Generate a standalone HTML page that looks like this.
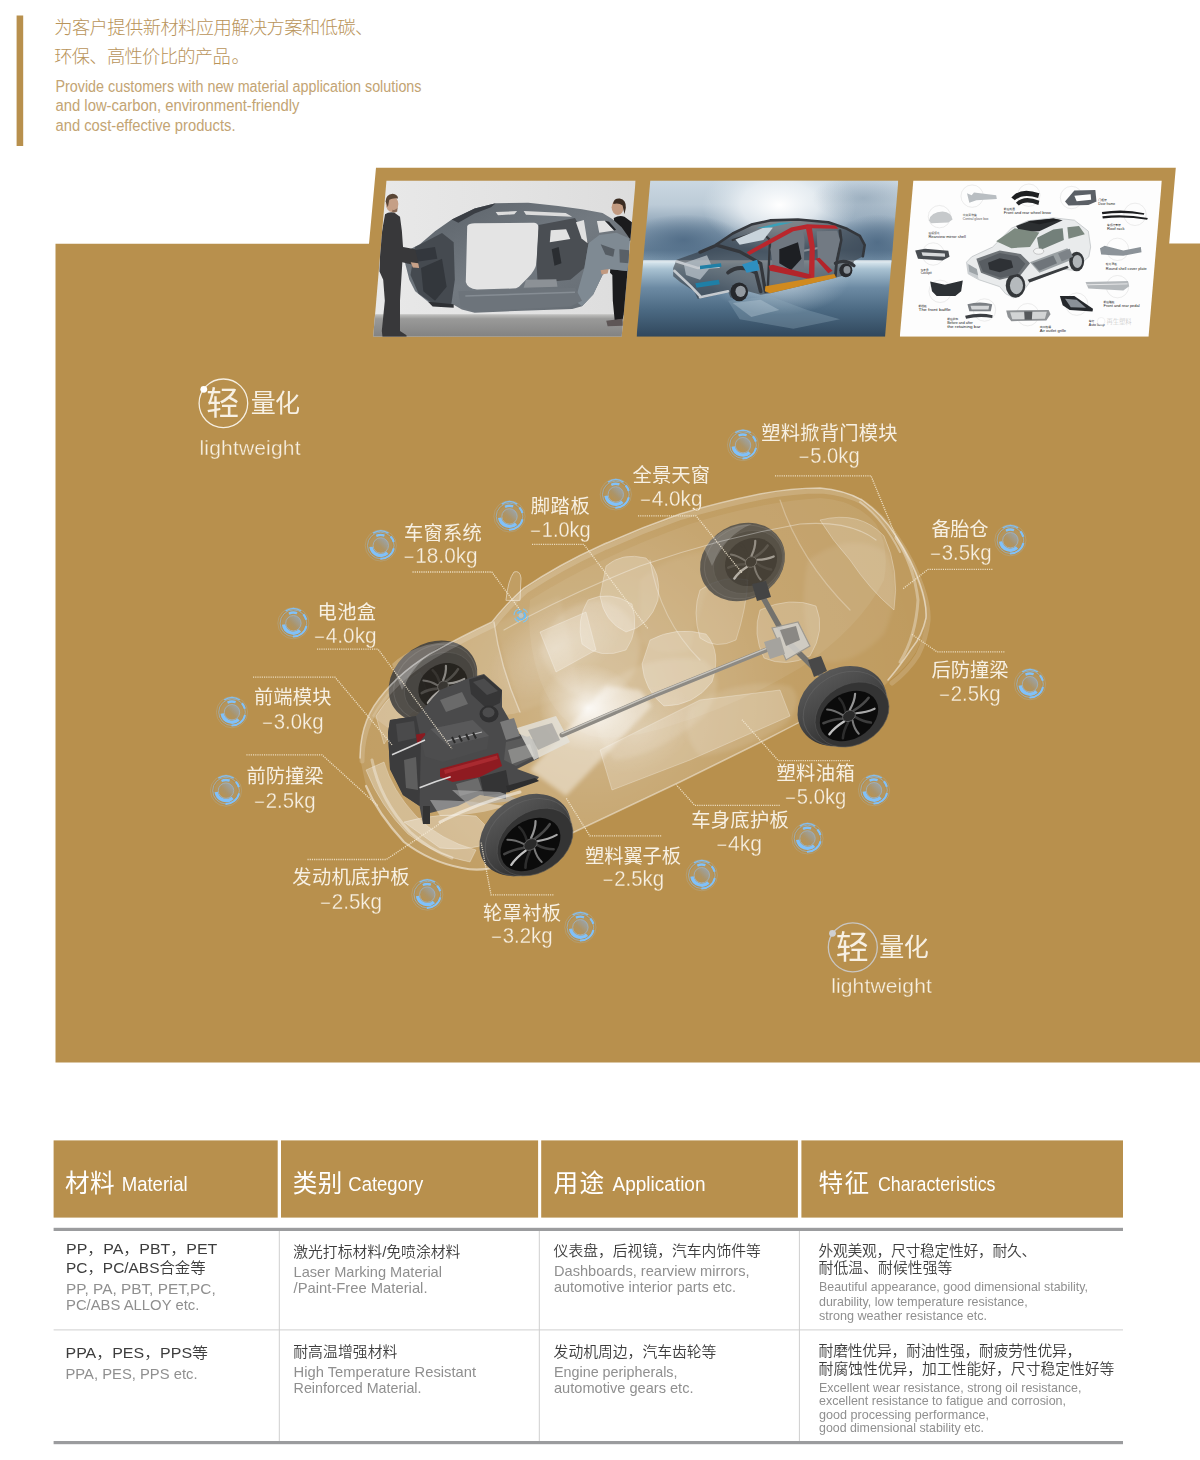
<!DOCTYPE html>
<html lang="zh-CN">
<head>
<meta charset="utf-8">
<title>轻量化 lightweight</title>
<style>
html,body{margin:0;padding:0;background:#fff;}
body{width:1200px;height:1460px;overflow:hidden;position:relative;}
svg{display:block;position:absolute;left:0;top:0;}
text{font-family:"Liberation Sans","Noto Sans CJK SC",sans-serif;}
.cj{font-family:"Liberation Sans","Noto Sans CJK SC",sans-serif;font-weight:300;}
.en{font-family:"Liberation Sans",sans-serif;font-weight:400;}
.lb{fill:#f7f0e3;}
.nm{stroke:#b8904d;stroke-width:.28px;}
.lw{stroke:#b8904d;stroke-width:.3px;}
.lc{font-weight:400;}
.dot{fill:none;stroke:#f5ead4;stroke-width:1.3;stroke-dasharray:1.15 1.05;opacity:.85;}
</style>
</head>
<body>
<svg width="1200" height="1460" viewBox="0 0 1200 1460">
<rect x="0" y="0" width="1200" height="1460" fill="#ffffff"/>
<!-- intro -->
<rect x="16.6" y="15.5" width="6.6" height="130.5" fill="#b8904d"/>
<g fill="#b9945a">
<text class="cj" x="54.2" y="34" font-size="18.3" textLength="319.2" lengthAdjust="spacing">为客户提供新材料应用解决方案和低碳、</text>
<text class="cj" x="54.2" y="63.4" font-size="18.3" textLength="195.6" lengthAdjust="spacing">环保、高性价比的产品<tspan dx="1.5">。</tspan></text>
</g>
<g fill="#c3a473">
<text class="en" x="55.5" y="92" font-size="15.6" textLength="366" lengthAdjust="spacingAndGlyphs">Provide customers with new material application solutions</text>
<text class="en" x="55.5" y="111.2" font-size="15.6" textLength="244" lengthAdjust="spacingAndGlyphs">and low-carbon, environment-friendly</text>
<text class="en" x="55.5" y="130.5" font-size="15.6" textLength="180" lengthAdjust="spacingAndGlyphs">and cost-effective products.</text>
</g>
<!-- gold panel -->
<path d="M55.5 243.8 H369 L376 167.8 H1175.8 L1169.2 243.6 H1200 V1062.5 H55.5 Z" fill="#b8904d"/>
<defs>
<clipPath id="cp1"><path d="M92 45 H1160 L1100 715 H35 Z"/></clipPath>
<clipPath id="cp2"><path d="M87 45 H1150 L1093 715 H28 Z"/></clipPath>
<clipPath id="cp3"><path d="M100 45 H1165 L1108 715 H42 Z"/></clipPath>
<linearGradient id="p1wall" x1="0" y1="0" x2="1" y2="0"><stop offset="0" stop-color="#e9e9e9"/><stop offset=".5" stop-color="#e3e3e3"/><stop offset="1" stop-color="#dcdcdc"/></linearGradient>
<linearGradient id="p1floor" x1="0" y1="0" x2="0" y2="1"><stop offset="0" stop-color="#c3c3c1"/><stop offset=".18" stop-color="#9a9a99"/><stop offset="1" stop-color="#7e7e7e"/></linearGradient>
<linearGradient id="p1frame" x1="0" y1="0" x2="1" y2="1"><stop offset="0" stop-color="#596067"/><stop offset=".5" stop-color="#737a81"/><stop offset="1" stop-color="#626970"/></linearGradient>
<linearGradient id="p2sky" gradientUnits="userSpaceOnUse" x1="0" y1="45" x2="0" y2="392"><stop offset="0" stop-color="#cbd8e2"/><stop offset=".3" stop-color="#bccbd7"/><stop offset=".62" stop-color="#8199ae"/><stop offset=".86" stop-color="#647f97"/><stop offset="1" stop-color="#7c97ad"/></linearGradient>
<radialGradient id="p2glow" gradientUnits="userSpaceOnUse" cx="640" cy="150" r="330" gradientTransform="translate(640 150) scale(1 .62) translate(-640 -150)"><stop offset="0" stop-color="#ffffff" stop-opacity="1"/><stop offset=".5" stop-color="#f1f5f8" stop-opacity=".75"/><stop offset="1" stop-color="#dfe8ee" stop-opacity="0"/></radialGradient>
<radialGradient id="p2dk" gradientUnits="userSpaceOnUse" cx="0" cy="0" r="200"><stop offset="0" stop-color="#4d6984" stop-opacity=".85"/><stop offset="1" stop-color="#4d6984" stop-opacity="0"/></radialGradient>
<linearGradient id="p2floor" gradientUnits="userSpaceOnUse" x1="0" y1="392" x2="0" y2="715"><stop offset="0" stop-color="#dce9f0"/><stop offset=".1" stop-color="#a9c2d2"/><stop offset=".35" stop-color="#6c8aa3"/><stop offset=".65" stop-color="#4b6982"/><stop offset="1" stop-color="#30475c"/></linearGradient>
<radialGradient id="p2fglow" gradientUnits="userSpaceOnUse" cx="640" cy="470" r="300" gradientTransform="translate(640 470) scale(1 .5) translate(-640 -470)"><stop offset="0" stop-color="#cfdde7" stop-opacity=".75"/><stop offset="1" stop-color="#cfdde7" stop-opacity="0"/></radialGradient>
</defs>

<!-- photo 1 -->
<g transform="translate(365 170) scale(.233333)" clip-path="url(#cp1)">
<rect x="0" y="0" width="1200" height="750" fill="url(#p1wall)"/>
<rect x="0" y="618" width="1200" height="110" fill="url(#p1floor)"/>
<!-- right man (behind frame) -->
<path d="M1066 206 Q1090 192 1112 200 L1144 224 L1146 300 L1132 304 L1126 440 L1122 520 L1116 600 L1104 640 L1070 644 L1062 560 L1060 450 L1050 440 L1060 300 L1072 250 Z" fill="#1b1b1d"/>
<ellipse cx="1083" cy="160" rx="26" ry="33" fill="#c29a80"/>
<path d="M1064 140 Q1068 120 1092 122 Q1120 128 1118 162 L1112 190 L1104 152 Q1088 140 1064 146 Z" fill="#3b2c22"/>
<path d="M1034 646 L1102 638 L1106 668 L1040 670 Z" fill="#5e5656"/>
<!-- car frame -->
<path d="M168 352 L235 318 L300 262 L372 212 L470 165 L560 142 L700 140 L828 154 L930 168 L1018 184 L1060 210 L1100 245 L1134 294 L1130 434 L1044 424 L1018 450 L978 534 L930 584 L888 596 L600 606 L470 612 L415 598 L380 578 L300 582 L270 565 L215 520 L190 470 L172 400 Z" fill="url(#p1frame)"/>
<path d="M215 330 L330 270 L380 310 L385 470 L370 575 L300 580 L230 530 L195 450 Z" fill="#454a50"/>
<path d="M240 420 L330 380 L350 500 L300 560 L250 520 Z" fill="#33373c"/>
<path d="M438 240 Q445 228 470 228 L725 226 Q748 228 744 260 L735 400 Q730 430 700 460 L660 500 Q650 508 630 508 L480 512 Q440 510 432 480 Z" fill="#e4e4e4"/>
<path d="M560 180 L652 176 L640 190 L570 194 Z M680 176 L860 184 L888 200 L690 192 Z" fill="#dcdcdc"/>
<path d="M744 236 L900 206 L958 314 L940 420 L880 470 L740 484 L735 400 Z" fill="#4a4e53"/>
<path d="M796 258 L862 254 L880 296 L792 310 Z" fill="#e2e2e2"/>
<path d="M904 224 L938 214 L954 314 L928 294 Z" fill="#e0e0e0"/>
<path d="M994 219 L1028 217 L1068 259 L1004 269 Z" fill="#e1e1e1"/>
<path d="M1028 217 L1046 222 L1076 256 L1068 259 Z" fill="#222428"/>
<path d="M958 314 L1004 279 L1078 269 L1134 294 L1130 434 L1044 424 L1018 450 L978 534 L930 584 L900 560 L940 420 Z" fill="#7f8a93"/>
<path d="M1010 318 L1070 340 L1064 372 L1030 362 Z" fill="#565d64"/>
<path d="M1090 340 L1132 344 L1130 400 L1092 396 Z" fill="#596067"/>
<path d="M690 470 L820 468 L825 500 L680 505 Z" fill="#8c9196"/>
<path d="M800 340 L830 330 L842 400 L812 410 Z" fill="#2a2d31"/>
<path d="M400 520 L900 505 L930 560 L880 585 L470 605 L410 585 Z" fill="#6d747b"/>
<path d="M430 540 L900 524" stroke="#868d94" stroke-width="6"/>
<path d="M270 565 L380 575 L380 590 L290 585 Z" fill="#2e3034"/>
<path d="M168 350 L300 330 L310 380 L180 400 Z" fill="#33373d"/>
<path d="M372 212 L470 165 L560 142 L540 160 L470 186 L400 226 Z" fill="#3a3e44"/>
<!-- left man -->
<path d="M86 190 Q100 178 125 182 L150 200 L158 260 L163 330 L215 340 L230 400 L200 405 L160 395 L158 430 L150 560 L150 690 L178 708 L178 716 L75 716 L72 690 L85 560 L78 470 L62 435 L66 300 Z" fill="#38383a"/>
<ellipse cx="116" cy="146" rx="27" ry="34" fill="#c59f86"/>
<path d="M88 135 Q90 104 118 102 Q140 104 142 122 Q120 118 104 128 L98 160 Z" fill="#5a4636"/>
<path d="M118 170 Q132 176 140 160 L138 178 Q126 186 116 180 Z" fill="#8a6a55"/>
<path d="M196 395 L228 400 L232 420 L205 418 Z" fill="#c7a188"/>
<path d="M1010 430 L1044 424 L1040 444 L1014 448 Z" fill="#c29a80"/>
</g>

<!-- photo 2 -->
<g transform="translate(630 170) scale(.233333)" clip-path="url(#cp2)">
<rect x="0" y="0" width="1200" height="395" fill="url(#p2sky)"/>
<rect x="0" y="0" width="1200" height="395" fill="url(#p2glow)"/>
<circle cx="0" cy="0" r="200" fill="url(#p2dk)" transform="translate(230 300) scale(1.25 .55)"/>
<circle cx="0" cy="0" r="200" fill="url(#p2dk)" transform="translate(1060 310) scale(.9 .6)"/>
<circle cx="0" cy="0" r="200" fill="url(#p2dk)" transform="translate(1000 120) scale(1.1 .5)" opacity=".35"/>
<rect x="0" y="392" width="1200" height="340" fill="url(#p2floor)"/>
<rect x="0" y="392" width="1200" height="340" fill="url(#p2fglow)"/>
<rect x="0" y="386" width="1200" height="9" fill="#eef4f7" opacity=".7"/>
<path d="M420 560 L600 540 L760 600 L900 640 L700 680 L470 640 Z" fill="#8ea8bb" opacity=".35"/>
<path d="M440 570 L560 556 L640 600 L520 630 Z" fill="#b9cad6" opacity=".4"/>
<!-- frame silhouette -->
<path d="M185 420 L200 385 L290 352 L370 318 L440 270 L520 232 L600 214 L720 210 L850 222 L930 250 L985 280 L1008 320 L1000 370 L960 390 L945 440 L905 455 L880 462 L600 528 L560 535 L505 520 L470 560 L430 545 L420 520 L330 545 L290 552 L275 520 L215 480 L185 455 Z" fill="#2e3136" opacity=".55"/>
<g fill="none" stroke="#34373c" stroke-linejoin="round" stroke-linecap="round">
<path d="M370 320 L440 272 L520 234 L600 216 L720 212 L850 224 L930 252 L985 282 L1006 322 L998 370" stroke-width="11"/>
<path d="M440 300 L560 262 L600 300 L590 520" stroke-width="10"/>
<path d="M300 352 L370 322 L470 350 L560 400 L580 520" stroke-width="14"/>
<path d="M900 260 L905 300 L885 400 L880 455" stroke-width="12"/>
<path d="M420 440 Q470 400 540 440 L560 520" stroke-width="16"/>
<path d="M880 400 Q925 380 960 410" stroke-width="14"/>
<path d="M620 330 L740 300 M620 370 L880 320" stroke-width="9" stroke="#8a9098"/>
</g>
<path d="M452 298 L585 242 L612 248 L572 300 L470 320 Z" fill="#c9d4dc"/>
<path d="M610 300 L740 252 L748 300 L745 420 L700 440 L615 430 L602 340 Z" fill="#6f7780"/>
<path d="M800 262 L888 260 L900 300 L880 390 L830 420 L805 380 Z" fill="#727a83"/>
<path d="M640 340 L720 310 L735 380 L690 430 L640 400 Z" fill="#1d1f23"/>
<path d="M230 400 L330 365 L350 410 L300 470 L240 450 Z" fill="#b8c1c9" opacity=".75"/>
<g fill="none" stroke="#c5cacf" stroke-width="11" stroke-linecap="round">
<path d="M190 432 L262 500 L300 540"/>
<path d="M200 392 L290 420 L380 415"/>
<path d="M300 545 L420 520"/>
</g>
<path d="M280 485 L380 470 L385 490 L285 505 Z M300 410 L390 400 L392 415 L300 425 Z" fill="#1f7fa6"/>
<path d="M480 405 L545 385 L555 430 L500 440 Z" fill="#2e8fc0"/>
<path d="M540 250 L640 226 L700 224 L600 246 Z" fill="#3aa0b8"/>
<!-- red pillars -->
<path d="M500 352 L690 246 L760 232 L880 238 L893 252 L770 250 L700 262 L512 364 Z" fill="#b9262c"/>
<path d="M752 240 L778 238 L792 330 L790 465 L766 470 L770 330 Z" fill="#bb282e"/>
<path d="M594 410 L612 406 L775 448 L772 468 L600 432 Z" fill="#b3242a"/>
<path d="M795 380 L812 376 L868 432 L850 442 Z" fill="#b3242a"/>
<path d="M580 498 L876 446 L884 462 L600 528 L578 520 Z" fill="#d08a1f"/>
<!-- hubs -->
<ellipse cx="468" cy="522" rx="38" ry="40" fill="#26282c"/>
<ellipse cx="474" cy="520" rx="22" ry="24" fill="#9299a0"/>
<ellipse cx="925" cy="430" rx="28" ry="30" fill="#292b2f"/>
<ellipse cx="930" cy="428" rx="15" ry="17" fill="#8a9198"/>
</g>

<!-- photo 3 -->
<g transform="translate(890 170) scale(.233333)" clip-path="url(#cp3)">
<rect x="0" y="0" width="1200" height="750" fill="#fdfdfd"/>
<g fill="none" stroke="#d9d9d9" stroke-width="2">
<circle cx="352" cy="112" r="48"/><circle cx="595" cy="108" r="48"/><circle cx="778" cy="118" r="48"/><circle cx="1050" cy="190" r="48"/>
<circle cx="212" cy="200" r="48"/><circle cx="975" cy="340" r="48"/><circle cx="185" cy="360" r="48"/><circle cx="975" cy="500" r="48"/>
<circle cx="215" cy="520" r="48"/><circle cx="800" cy="575" r="48"/><circle cx="405" cy="600" r="48"/><circle cx="590" cy="620" r="48"/>
</g>
<!-- SUV -->
<path d="M328 395 L350 372 L440 330 L520 250 L590 218 L700 205 L790 215 L850 262 L860 330 L852 372 L820 400 L790 430 L740 425 L600 480 L570 520 L530 548 L495 530 L470 500 L380 470 L335 445 Z" fill="#e9ebec" stroke="#b9bdc0" stroke-width="3"/>
<path d="M540 240 L600 218 L700 208 L740 215 L640 262 L560 268 Z" fill="#2c2f31"/>
<path d="M455 305 L535 250 L640 268 L600 330 L520 335 Z" fill="#7d8a80"/>
<path d="M630 290 L700 255 L740 250 L745 300 L640 345 Z" fill="#73807a"/>
<path d="M760 245 L810 240 L835 275 L765 295 Z" fill="#7a867e"/>
<path d="M370 380 L470 345 L560 360 L600 400 L560 450 L470 470 L390 440 Z" fill="#6f7478"/>
<path d="M400 395 L470 370 L530 380 L540 420 L470 445 L410 430 Z" fill="#3d4146"/>
<path d="M600 395 L760 335 L790 380 L640 440 Z" fill="#9aa0a3"/>
<path d="M330 400 L370 425 L380 468 L336 445 Z" fill="#c9cdd0"/>
<ellipse cx="538" cy="495" rx="42" ry="52" fill="#34373a"/>
<ellipse cx="542" cy="495" rx="28" ry="37" fill="#b5babd"/>
<ellipse cx="800" cy="392" rx="32" ry="42" fill="#34373a"/>
<ellipse cx="803" cy="392" rx="20" ry="28" fill="#b0b5b8"/>
<ellipse cx="637" cy="348" rx="22" ry="13" fill="#f3f4f4" stroke="#999" stroke-width="2"/>
<path d="M380 392 L470 356 L548 370 L580 402 L548 446 L474 462 L398 436 Z" fill="#585d62"/>
<path d="M420 398 L470 378 L520 388 L528 418 L470 438 L426 426 Z" fill="#2e3135"/>
<path d="M610 400 L700 366 L716 400 L640 432 Z" fill="#6f757a"/>
<path d="M720 358 L770 338 L784 372 L736 392 Z" fill="#7d8388"/>
<path d="M590 222 L700 208 L730 214 L640 232 Z" fill="#1e2022"/>
<path d="M336 404 L372 424 L378 452 L340 436 Z" fill="#9ea4a8"/>
<path d="M590 470 L760 410 L766 420 L598 482 Z" fill="#3a3d40"/>
<!-- parts -->
<path d="M330 100 L350 108 L360 96 L455 108 L458 124 L370 130 L340 140 Z" fill="#b9bec2"/>
<path d="M520 118 Q560 70 640 100 L635 120 Q570 98 535 130 Z" fill="#1d1f21"/>
<path d="M540 140 Q575 105 640 132 L636 150 Q580 128 552 152 Z" fill="#232527"/>
<path d="M750 135 L790 88 L880 86 L885 135 L850 150 L765 152 Z" fill="#5b6066"/>
<path d="M790 110 L860 104 L862 128 L800 134 Z" fill="#fdfdfd"/>
<path d="M908 180 Q1000 165 1090 185 L1088 192 Q1000 178 910 190 Z M910 198 Q1005 186 1105 206 L1102 213 Q1005 198 912 208 Z" fill="#1c1d1f"/>
<path d="M168 215 Q175 180 225 178 Q265 182 268 212 L250 225 L175 228 Z" fill="#c6c9cb"/>
<path d="M900 335 L920 325 L1000 345 L1075 330 L1078 352 L1000 368 Q940 365 905 362 Z" fill="#8c9399"/>
<path d="M108 345 L150 338 L250 346 L255 372 L225 388 L120 380 Z" fill="#494d52"/>
<path d="M135 352 L235 358 L236 372 L140 368 Z" fill="#d7d9db"/>
<path d="M172 478 L235 492 L312 474 L305 520 L280 540 L200 540 L180 520 Z" fill="#2e3236"/>
<path d="M838 480 L1020 476 L1025 498 L1000 516 L850 508 Z" fill="#b4b8bb"/>
<path d="M842 492 L1018 488" stroke="#e9eaeb" stroke-width="4"/>
<path d="M728 540 L790 540 L870 595 L868 606 L770 600 L740 580 Z" fill="#25282c"/>
<path d="M750 552 L800 556 L840 590 L775 588 Z" fill="#8a9097"/>
<path d="M332 575 Q385 560 438 575 L432 605 L340 605 Z" fill="#7c8085"/>
<path d="M345 582 L425 582 L422 598 L350 598 Z" fill="#d4d6d8"/>
<path d="M322 625 Q380 608 440 622 L438 634 Q380 624 326 638 Z" fill="#3c3f43"/>
<path d="M498 602 L680 600 L688 618 L670 645 L520 648 L505 630 Z" fill="#8f9295"/>
<path d="M515 610 L672 608 L664 638 L524 640 Z" fill="#d2d4d5"/>
<path d="M575 606 L610 606 L608 642 L577 642 Z" fill="#55585b"/>
<!-- captions -->
<g font-family="'Liberation Sans','Noto Sans CJK SC',sans-serif" fill="#222" font-size="17">
<text x="312" y="214" fill="#555" textLength="110" lengthAdjust="spacingAndGlyphs">Central glove box</text><text x="312" y="197" font-size="12" fill="#555">中央置物盒</text>
<text x="488" y="188" textLength="202" lengthAdjust="spacingAndGlyphs">Front and rear wheel brow</text><text x="488" y="170" font-size="12">前后轮眉</text>
<text x="893" y="151" textLength="72" lengthAdjust="spacingAndGlyphs">Door frame</text><text x="893" y="134" font-size="12">门框架</text>
<text x="930" y="259" textLength="75" lengthAdjust="spacingAndGlyphs">Roof rack</text><text x="930" y="242" font-size="12">车顶行李架</text>
<text x="165" y="291" textLength="160" lengthAdjust="spacingAndGlyphs">Rearview mirror shell</text><text x="165" y="273" font-size="12">后视镜壳</text>
<text x="925" y="427" textLength="175" lengthAdjust="spacingAndGlyphs">Round shell cover plate</text><text x="925" y="409" font-size="12">轮壳罩板</text>
<text x="132" y="446" font-size="13" textLength="46" lengthAdjust="spacingAndGlyphs">Cockpit</text><text x="132" y="432" font-size="11">仪表盘</text>
<text x="915" y="587" textLength="155" lengthAdjust="spacingAndGlyphs">Front and rear pedal</text><text x="915" y="569" font-size="12">前后踏板</text>
<text x="122" y="605" font-size="18" textLength="138" lengthAdjust="spacingAndGlyphs">The front baffle</text><text x="122" y="586" font-size="12">前挡板</text>
<text x="245" y="659" textLength="110" lengthAdjust="spacingAndGlyphs">Before and after</text><text x="245" y="678" font-size="18" textLength="143" lengthAdjust="spacingAndGlyphs">the retaining bar</text><text x="245" y="642" font-size="12">前后护杠</text>
<text x="642" y="696" textLength="113" lengthAdjust="spacingAndGlyphs">Air outlet grille</text><text x="642" y="678" font-size="12">出口格栅</text>
<text x="852" y="667" textLength="68" lengthAdjust="spacingAndGlyphs">Auto lamp</text><text x="852" y="650" font-size="12">车灯</text>
<text x="928" y="659" font-size="27" fill="#c4c4c4" class="cj">再生塑料</text>
</g>
<circle cx="905" cy="648" r="16" fill="#ffffff" opacity=".8" stroke="#ddd" stroke-width="2"/>
</g>
<defs>
<radialGradient id="cglow" cx=".5" cy=".5" r=".5"><stop offset="0" stop-color="#fff" stop-opacity=".95"/><stop offset=".4" stop-color="#fff" stop-opacity=".5"/><stop offset="1" stop-color="#fff" stop-opacity="0"/></radialGradient>
<radialGradient id="cbody" gradientUnits="userSpaceOnUse" cx="590" cy="700" r="340"><stop offset="0" stop-color="#fff" stop-opacity=".36"/><stop offset=".3" stop-color="#fff" stop-opacity=".24"/><stop offset=".6" stop-color="#fff" stop-opacity=".14"/><stop offset="1" stop-color="#fff" stop-opacity=".10"/></radialGradient>
<linearGradient id="tire" x1="0" y1="0" x2="0" y2="1"><stop offset="0" stop-color="#585858"/><stop offset=".5" stop-color="#444"/><stop offset="1" stop-color="#2c2c2c"/></linearGradient>
<filter id="b2" x="-20%" y="-20%" width="140%" height="140%"><feGaussianBlur stdDeviation="2"/></filter>
<filter id="b5" x="-30%" y="-30%" width="160%" height="160%"><feGaussianBlur stdDeviation="5"/></filter>
<filter id="b1" x="-10%" y="-10%" width="120%" height="120%"><feGaussianBlur stdDeviation=".7"/></filter>
<g id="spokes" fill="none" stroke-linecap="round">
<path d="M0 0 L3 -23 M0 0 L21 -9 M0 0 L18 14 M0 0 L-3 23 M0 0 L-21 9 M0 0 L-18 -14" stroke="#8e8e8e" stroke-width="2.6"/>
<path d="M0 0 L13 -19 M0 0 L23 3 M0 0 L8 21 M0 0 L-13 19 M0 0 L-23 -3 M0 0 L-8 -21" stroke="#4c4c4c" stroke-width="2"/>
<circle r="4.2" fill="#666" stroke="#999" stroke-width="1"/>
</g>
</defs>
<g id="car">
<!-- translucent body -->
<path id="bodyp" d="M360 758 Q360 728 374 706 Q394 676 430 654 Q462 636 492 622 Q506 604 524 588 Q560 564 600 546 Q640 528 680 514 Q720 502 760 494 Q792 488 820 488 Q844 490 862 500 Q882 514 896 536 Q912 560 920 584 Q927 604 926 618 Q924 636 916 652 Q906 668 890 680 L870 700 L800 722 L765 740 L680 782 L570 834 L540 850 L500 866 Q480 872 462 868 Q430 862 404 842 Q378 814 366 786 Z" fill="url(#cbody)"/>
<!-- roof panel -->
<path d="M530 600 Q600 556 690 524 Q760 502 820 498 Q856 500 876 524 Q890 548 884 580 Q860 628 800 668 Q740 704 670 726 Q620 742 590 736 Q556 722 540 680 Q526 640 530 600 Z" fill="#fff" opacity=".07"/>
<!-- hood -->
<path d="M372 716 Q392 680 432 654 Q462 636 494 622 Q500 666 520 712 Q500 720 470 704 Q420 706 388 728 Z" fill="#fff" opacity=".14"/>
<!-- interior blobs -->
<g fill="#fff" filter="url(#b2)">
<path d="M540 650 Q552 606 596 600 Q632 604 640 644 Q640 684 604 700 Q556 700 540 650 Z" opacity="0.12"/>
<path d="M596 690 Q650 650 704 660 Q730 680 704 716 Q654 758 614 760 Q586 726 596 690 Z" opacity="0.12"/>
<path d="M690 706 Q740 676 790 686 Q806 700 786 724 Q744 752 700 756 Q680 736 690 706 Z" opacity="0.11"/>
<path d="M808 560 Q850 530 886 552 Q904 590 884 634 Q850 670 816 660 Q796 620 808 560 Z" opacity="0.08"/>
<path d="M640 580 Q680 546 724 552 Q700 600 690 650 Q660 660 640 640 Z" opacity="0.06"/>
<path d="M494 624 L560 596 L580 690 L520 712 Z" opacity="0.07"/>
</g>
<!-- seats & panels -->
<g fill="#fff" stroke="#fff" stroke-width=".8" stroke-opacity=".35" filter="url(#b1)">
<path d="M606 566 Q622 552 646 558 Q662 572 658 600 Q650 626 626 632 Q604 622 600 596 Z" fill-opacity="0.24"/>
<path d="M588 600 Q610 590 632 604 Q640 630 626 650 Q600 660 582 644 Q576 620 588 600 Z" fill-opacity="0.21"/>
<path d="M650 640 Q676 626 706 634 Q722 652 712 682 Q694 706 664 706 Q644 690 642 664 Z" fill-opacity="0.27"/>
<path d="M700 590 Q724 574 748 580 Q746 610 736 640 Q716 650 700 638 Q692 612 700 590 Z" fill-opacity="0.15"/>
<path d="M760 610 Q790 596 816 606 Q826 630 810 656 Q786 668 764 658 Q752 634 760 610 Z" fill-opacity="0.18"/>
<path d="M540 632 L586 612 L596 650 L556 672 Z" fill-opacity="0.24"/>
<path d="M600 750 L700 700 L780 690 L790 716 L690 760 L612 790 Z" fill-opacity="0.21"/>
<path d="M820 520 Q860 510 884 536 Q900 570 894 610 Q870 590 850 560 Q832 540 820 520 Z" fill-opacity="0.18"/>
<path d="M376 716 Q392 690 420 672 L430 700 Q400 716 384 744 Z" fill-opacity="0.21"/>
<path d="M366 770 Q380 806 408 834 Q436 856 470 862 L476 850 Q440 840 416 816 Q392 790 384 762 Z" fill-opacity="0.30"/>
<path d="M404 822 Q440 812 476 816 L500 840 Q470 852 440 848 Z" fill-opacity="0.30"/>
</g>
<ellipse cx="0" cy="0" rx="78" ry="42" transform="translate(556 648) rotate(-32)" fill="url(#cglow)" opacity=".30"/>
<ellipse cx="0" cy="0" rx="60" ry="40" transform="translate(640 730) rotate(-25)" fill="url(#cglow)" opacity=".22"/>
<!-- bright console -->
<path d="M530 770 L606 686 L640 690 L652 706 L566 796 Z" fill="#fff" opacity=".42" filter="url(#b2)"/>
<ellipse cx="588" cy="708" rx="50" ry="44" fill="url(#cglow)" opacity=".9"/>
<!-- rear-left wheel -->
<g opacity="0.82">
<ellipse transform="translate(742.5 562) rotate(-30)" rx="44" ry="37.5" fill="#4a4a49"/>
<ellipse transform="translate(744.3 562.0) rotate(-30)" rx="41.3" ry="35.0" fill="none" stroke="#6a6a6a" stroke-width="1" opacity=".5"/>
<ellipse transform="translate(748 562) rotate(-30)" rx="36" ry="30" fill="#3f3f3e"/>
<ellipse transform="translate(748 562) rotate(-30)" rx="36" ry="30" fill="none" stroke="#555" stroke-width=".8" opacity=".7"/>
<g transform="translate(751 562) rotate(-30)"><ellipse rx="27" ry="23" fill="#2a2a2a"/><path d="M6.6 1.2 Q14.7 5.7 22.5 6.5" fill="none" stroke="#a8a8a8" stroke-width="2.2" stroke-linecap="round" opacity="0.9"/><path d="M4.5 4.3 Q8.0 12.0 13.7 16.6" fill="none" stroke="#3c3c3c" stroke-width="2.6" stroke-linecap="round" opacity="0.9"/><path d="M0.7 5.7 Q-1.9 13.7 -0.4 20.2" fill="none" stroke="#7a7a7a" stroke-width="2.0" stroke-linecap="round" opacity="0.9"/><path d="M-3.4 5.0 Q-11.0 10.2 -14.3 16.2" fill="none" stroke="#2e2e2e" stroke-width="2.6" stroke-linecap="round" opacity="0.9"/><path d="M-6.2 2.3 Q-15.9 2.7 -22.7 6.0" fill="none" stroke="#c0c0c0" stroke-width="2.4" stroke-linecap="round" opacity="0.9"/><path d="M-6.6 -1.2 Q-14.7 -5.7 -22.5 -6.5" fill="none" stroke="#444" stroke-width="2.6" stroke-linecap="round" opacity="0.9"/><path d="M-4.5 -4.3 Q-8.0 -12.0 -13.7 -16.6" fill="none" stroke="#6e6e6e" stroke-width="2.0" stroke-linecap="round" opacity="0.9"/><path d="M-0.7 -5.7 Q1.9 -13.7 0.4 -20.2" fill="none" stroke="#2a2a2a" stroke-width="2.6" stroke-linecap="round" opacity="0.9"/><path d="M3.4 -5.0 Q11.0 -10.2 14.3 -16.2" fill="none" stroke="#959595" stroke-width="2.2" stroke-linecap="round" opacity="0.9"/><path d="M6.2 -2.3 Q15.9 -2.7 22.7 -6.0" fill="none" stroke="#4a4a4a" stroke-width="2.6" stroke-linecap="round" opacity="0.9"/><ellipse rx="5.9" ry="5.1" fill="#2a2a2a" stroke="#6a6a6a" stroke-width=".8"/></g>
</g>
<path d="M704 548 Q722 524 752 524 Q726 534 712 566 Z" fill="#fff" opacity=".18"/>
<!-- front-left wheel (inside body) -->
<g opacity="0.9">
<ellipse transform="translate(433 681.5) rotate(-34)" rx="47" ry="38" fill="#444342"/>
<ellipse transform="translate(435.0 682.3) rotate(-34)" rx="43.7" ry="35.0" fill="none" stroke="#6a6a6a" stroke-width="1" opacity=".5"/>
<ellipse transform="translate(439 684) rotate(-34)" rx="37" ry="29" fill="#393939"/>
<ellipse transform="translate(439 684) rotate(-34)" rx="37" ry="29" fill="none" stroke="#555" stroke-width=".8" opacity=".7"/>
<g transform="translate(443 686) rotate(-34)"><ellipse rx="26" ry="21.5" fill="#141414"/><path d="M6.4 1.1 Q14.2 5.4 21.6 6.1" fill="none" stroke="#a8a8a8" stroke-width="2.2" stroke-linecap="round" opacity="0.85"/><path d="M4.3 4.0 Q7.7 11.2 13.2 15.5" fill="none" stroke="#3c3c3c" stroke-width="2.6" stroke-linecap="round" opacity="0.85"/><path d="M0.7 5.3 Q-1.8 12.8 -0.3 18.9" fill="none" stroke="#7a7a7a" stroke-width="2.0" stroke-linecap="round" opacity="0.85"/><path d="M-3.2 4.7 Q-10.6 9.5 -13.7 15.1" fill="none" stroke="#2e2e2e" stroke-width="2.6" stroke-linecap="round" opacity="0.85"/><path d="M-5.9 2.2 Q-15.3 2.5 -21.9 5.6" fill="none" stroke="#c0c0c0" stroke-width="2.4" stroke-linecap="round" opacity="0.85"/><path d="M-6.4 -1.1 Q-14.2 -5.4 -21.6 -6.1" fill="none" stroke="#444" stroke-width="2.6" stroke-linecap="round" opacity="0.85"/><path d="M-4.3 -4.0 Q-7.7 -11.2 -13.2 -15.5" fill="none" stroke="#6e6e6e" stroke-width="2.0" stroke-linecap="round" opacity="0.85"/><path d="M-0.7 -5.3 Q1.8 -12.8 0.3 -18.9" fill="none" stroke="#2a2a2a" stroke-width="2.6" stroke-linecap="round" opacity="0.85"/><path d="M3.3 -4.7 Q10.6 -9.5 13.7 -15.1" fill="none" stroke="#959595" stroke-width="2.2" stroke-linecap="round" opacity="0.85"/><path d="M5.9 -2.2 Q15.3 -2.5 21.9 -5.6" fill="none" stroke="#4a4a4a" stroke-width="2.6" stroke-linecap="round" opacity="0.85"/><ellipse rx="5.7" ry="4.7" fill="#2a2a2a" stroke="#6a6a6a" stroke-width=".8"/></g>
</g>
<path d="M392 664 Q416 642 452 642 Q420 652 402 690 Z" fill="#fff" opacity=".22"/>
<!-- engine -->
<g>
<path d="M388 733 L390 720 L416 716 L425 707 L440 690 L469 678 L484 674 L502 690 L502 707 L517 733 L535 740 L539 758 L517 769 L539 777 L535 782 L506 786 L506 799 L480 795 L458 806 L430 813 L430 824 L423 824 L419.5 806 L403 795 L390 769 Z" fill="#4a4a4b"/>
<path d="M388 733 L390 720 L416 716 L421 740 L419.5 806 L403 795 L390 769 Z" fill="#3c3c3d"/>
<path d="M396 724 L414 721 L416 738 L398 742 Z" fill="#4a4a4b"/>
<path d="M469 679.5 L484 675 L502 690.5 L500 703 L487 709 L471 694 Z" fill="#363637"/>
<path d="M473 682 L484 678.5 L498 691 L487 695 Z" fill="#4b4b4c"/>
<path d="M440 769 L498 753 L502 766 L480 777 L452.5 782 L440 777 Z" fill="#8f1b21"/>
<path d="M444 770 L497 755.5 L498 759 L445 774 Z" fill="#a92a30"/>
<path d="M416 734.5 L425 733 L426 741 L417 743 Z" fill="#8a1a20"/>
<path d="M421 740 L430.5 729 L472.7 720 L489 736 L487 749 L443 762 L425 756.5 Z" fill="#4d4d4e"/>
<path d="M430.5 729 L472.7 720 L489 736 L448 746 Z" fill="#59595a"/>
<path d="M447 741 L482 732" stroke="#cfcfcf" stroke-width="1.2" opacity=".8"/>
<path d="M452 737 L455 743 M459 735.5 L462 741.5 M466 734 L469 740 M473 732.5 L476 738.5" stroke="#2a2a2a" stroke-width="2"/>
<ellipse cx="489" cy="714" rx="9.5" ry="8.5" fill="#303031"/>
<ellipse cx="488.5" cy="712.5" rx="6" ry="5" fill="#4c4c4d"/>
<path d="M506 742 L530 736 L536 756 L516 766 L504 760 Z" fill="#5a5a5a"/>
<path d="M480 777 L506 770 L510 792 L484 796 Z" fill="#343435"/>
<path d="M506 786 L535 778 L539 781 L508 792 Z" fill="#2e2e2f"/>
<path d="M423 806 L430 806 L430 824 L423 824 Z" fill="#333"/>
<path d="M440 700 L462 692 L468 704 L446 712 Z" fill="#6a6a6a"/>
<path d="M500 722 L514 718 L520 736 L506 740 Z" fill="#7a7a7a"/>
<path d="M404 760 L416 757 L418 790 L406 788 Z" fill="#5e5e5e"/>
<path d="M456 784 L478 778 L482 790 L460 796 Z" fill="#6c6c6c"/>
<path d="M508 750 L530 744 L534 756 L512 764 Z" fill="#8a8a88"/>
<path d="M392 754.7 Q410 747 425 740" stroke="#e8e8e8" stroke-width="1.5" fill="none" opacity=".9"/>
<path d="M419.5 787.7 Q436 781 450.7 776.7" stroke="#e8e8e8" stroke-width="1.5" fill="none" opacity=".9"/>
<path d="M430 800 Q470 800 505 806 Q480 815 440 816 Z" fill="#fff" opacity=".35" filter="url(#b1)"/>
<path d="M452 790 L500 792 L520 800 L470 806 Z" fill="#b9b9b9" opacity=".55"/>
</g>
<!-- drivetrain -->
<g stroke-linecap="round" fill="none">
<path d="M517 728 L556 716 L570 742 L534 760 Z" fill="#e4e2dc" stroke="none" opacity=".8"/>
<path d="M528 730 L552 723 L560 740 L538 750 Z" fill="#a9a8a4" stroke="none" opacity=".8"/>
<path d="M562 735 L650 697 L766 650" stroke="#8d8a84" stroke-width="5"/>
<path d="M562 733.6 L650 695.6 L766 648.6" stroke="#c9c6bf" stroke-width="1.4"/>
<path d="M760 592 L788 642 L820 674" stroke="#74726d" stroke-width="5.5"/>
<path d="M772 628 L798 622 L810 646 L786 660 Z" fill="#cfcdc8" stroke="#9a9892" stroke-width="1.2" opacity=".92"/>
<path d="M764 642 L780 637 L785 654 L770 659 Z" fill="#a5a39e" stroke="none"/>
<path d="M780 630 L796 626 L800 640 L786 646 Z" fill="#8a8884" stroke="none"/>
<path d="M752 584 L766 581 L771 597 L757 601 Z" fill="#444" stroke="none"/>
<path d="M808 660 L821 656 L827 671 L814 677 Z" fill="#484848" stroke="none"/>
</g>
<!-- body edge highlights -->
<g fill="none" stroke="#fff" stroke-linecap="round" filter="url(#b1)">
<path d="M360 758 Q360 728 374 706 Q394 676 430 654 Q462 636 492 622 Q506 604 524 588 Q560 564 600 546 Q640 528 680 514 Q720 502 760 494 Q792 488 820 488 Q844 490 862 500 Q882 514 896 536 Q912 560 920 584 Q927 604 926 618 Q924 636 916 652 Q906 668 890 680" stroke-width="5" opacity=".16" transform="translate(2 3)"/>
<path d="M506 600 Q508 580 514 572 Q520 570 521 578 L520 600 Z" fill="#fff" fill-opacity=".25" stroke-width="1" opacity=".5"/>
<path d="M360 758 Q360 728 374 706 Q394 676 430 654 Q462 636 492 622 Q506 604 524 588 Q560 564 600 546 Q640 528 680 514 Q720 502 760 494 Q792 488 820 488 Q844 490 862 500 Q882 514 896 536 Q912 560 920 584 Q927 604 926 618 Q922 636 912 648 Q900 666 888 680" stroke-width="1.5" opacity=".5"/>
<path d="M366 786 Q378 814 404 842 Q430 862 462 868 Q480 872 500 866" stroke-width="2.2" opacity=".5"/>
<path d="M372 760 Q380 800 410 832 Q430 850 452 858" stroke-width="3" opacity=".35"/>
<path d="M570 834 L680 782 L765 740 L800 722" stroke-width="1.4" opacity=".45"/>
<path d="M494 622 Q500 666 520 712" stroke-width="1.4" opacity=".4"/>
<path d="M504 630 Q560 598 640 566 Q720 538 800 524 Q850 520 876 540" stroke-width="1.2" opacity=".35"/>
<path d="M896 538 Q914 566 918 600 Q916 636 900 662" stroke-width="3" opacity=".32"/>
<path d="M860 502 Q884 520 900 552" stroke-width="2" opacity=".35"/>
<path d="M440 822 Q480 802 520 792" stroke-width="3" opacity=".5"/>
<path d="M650 560 Q660 620 700 660" stroke-width="1.2" opacity=".3"/>
<path d="M780 500 Q800 560 850 610" stroke-width="1.2" opacity=".28"/>
</g>
<!-- front wheels (in front of body) -->
<g>
<ellipse transform="translate(525 835) rotate(-34)" rx="49" ry="37" fill="url(#tire)"/>
<ellipse transform="translate(528.3 837.3) rotate(-34)" rx="46.3" ry="34.7" fill="none" stroke="#6a6a6a" stroke-width="1" opacity=".5"/>
<ellipse transform="translate(535 842) rotate(-34)" rx="41" ry="30" fill="#343434"/>
<ellipse transform="translate(535 842) rotate(-34)" rx="41" ry="30" fill="none" stroke="#555" stroke-width=".8" opacity=".7"/>
<g transform="translate(530.5 844.5) rotate(-34)"><ellipse rx="32.5" ry="23.5" fill="#0b0b0b"/><path d="M7.9 1.2 Q17.7 5.9 27.1 6.7" fill="none" stroke="#a8a8a8" stroke-width="2.2" stroke-linecap="round" opacity="1.0"/><path d="M5.4 4.4 Q9.6 12.3 16.5 16.9" fill="none" stroke="#3c3c3c" stroke-width="2.6" stroke-linecap="round" opacity="1.0"/><path d="M0.8 5.8 Q-2.2 14.0 -0.4 20.7" fill="none" stroke="#7a7a7a" stroke-width="2.0" stroke-linecap="round" opacity="1.0"/><path d="M-4.1 5.1 Q-13.2 10.4 -17.2 16.5" fill="none" stroke="#2e2e2e" stroke-width="2.6" stroke-linecap="round" opacity="1.0"/><path d="M-7.4 2.4 Q-19.1 2.8 -27.3 6.1" fill="none" stroke="#c0c0c0" stroke-width="2.4" stroke-linecap="round" opacity="1.0"/><path d="M-7.9 -1.2 Q-17.7 -5.9 -27.1 -6.7" fill="none" stroke="#444" stroke-width="2.6" stroke-linecap="round" opacity="1.0"/><path d="M-5.4 -4.4 Q-9.6 -12.3 -16.5 -16.9" fill="none" stroke="#6e6e6e" stroke-width="2.0" stroke-linecap="round" opacity="1.0"/><path d="M-0.8 -5.8 Q2.2 -14.0 0.4 -20.7" fill="none" stroke="#2a2a2a" stroke-width="2.6" stroke-linecap="round" opacity="1.0"/><path d="M4.1 -5.1 Q13.2 -10.4 17.2 -16.5" fill="none" stroke="#959595" stroke-width="2.2" stroke-linecap="round" opacity="1.0"/><path d="M7.4 -2.4 Q19.1 -2.8 27.3 -6.1" fill="none" stroke="#4a4a4a" stroke-width="2.6" stroke-linecap="round" opacity="1.0"/><ellipse rx="7.2" ry="5.2" fill="#2a2a2a" stroke="#6a6a6a" stroke-width=".8"/></g>
</g>
<g>
<ellipse transform="translate(842 706) rotate(-30)" rx="46.6" ry="37.6" fill="url(#tire)"/>
<ellipse transform="translate(845.3 708.8) rotate(-30)" rx="44.1" ry="35.1" fill="none" stroke="#6a6a6a" stroke-width="1" opacity=".5"/>
<ellipse transform="translate(852 714.5) rotate(-30)" rx="39" ry="30" fill="#343434"/>
<ellipse transform="translate(852 714.5) rotate(-30)" rx="39" ry="30" fill="none" stroke="#555" stroke-width=".8" opacity=".7"/>
<g transform="translate(849 716) rotate(-30)"><ellipse rx="31" ry="23" fill="#0b0b0b"/><path d="M7.6 1.2 Q16.9 5.7 25.8 6.5" fill="none" stroke="#a8a8a8" stroke-width="2.2" stroke-linecap="round" opacity="1.0"/><path d="M5.2 4.3 Q9.1 12.0 15.7 16.6" fill="none" stroke="#3c3c3c" stroke-width="2.6" stroke-linecap="round" opacity="1.0"/><path d="M0.8 5.7 Q-2.1 13.7 -0.4 20.2" fill="none" stroke="#7a7a7a" stroke-width="2.0" stroke-linecap="round" opacity="1.0"/><path d="M-3.9 5.0 Q-12.6 10.2 -16.4 16.2" fill="none" stroke="#2e2e2e" stroke-width="2.6" stroke-linecap="round" opacity="1.0"/><path d="M-7.1 2.3 Q-18.2 2.7 -26.1 6.0" fill="none" stroke="#c0c0c0" stroke-width="2.4" stroke-linecap="round" opacity="1.0"/><path d="M-7.6 -1.2 Q-16.9 -5.7 -25.8 -6.5" fill="none" stroke="#444" stroke-width="2.6" stroke-linecap="round" opacity="1.0"/><path d="M-5.2 -4.3 Q-9.1 -12.0 -15.7 -16.6" fill="none" stroke="#6e6e6e" stroke-width="2.0" stroke-linecap="round" opacity="1.0"/><path d="M-0.8 -5.7 Q2.1 -13.7 0.4 -20.2" fill="none" stroke="#2a2a2a" stroke-width="2.6" stroke-linecap="round" opacity="1.0"/><path d="M3.9 -5.0 Q12.6 -10.2 16.4 -16.2" fill="none" stroke="#959595" stroke-width="2.2" stroke-linecap="round" opacity="1.0"/><path d="M7.1 -2.3 Q18.2 -2.7 26.1 -6.0" fill="none" stroke="#4a4a4a" stroke-width="2.6" stroke-linecap="round" opacity="1.0"/><ellipse rx="6.8" ry="5.1" fill="#2a2a2a" stroke="#6a6a6a" stroke-width=".8"/></g>
</g>
</g>
<defs>
<linearGradient id="icg" x1=".15" y1=".85" x2=".85" y2=".15"><stop offset="0" stop-color="#b9924f"/><stop offset=".45" stop-color="#ac9468"/><stop offset="1" stop-color="#9ba3a6"/></linearGradient>
<g id="ic">
<circle r="15.6" fill="none" stroke="#a9c6dc" stroke-width=".7" opacity=".35"/>
<circle r="13.3" fill="none" stroke="#93b6d2" stroke-width="1" opacity=".75"/>
<circle r="11.6" fill="#8fc6f3" opacity=".10"/>
<path d="M-7.74 -12.38 A14.6 14.6 0 0 1 7.74 -12.38" fill="none" stroke="#80c1fa" stroke-width="1.5" opacity=".95"/>
<path d="M13.01 2.77 A13.3 13.3 0 0 1 -0.46 13.29" fill="none" stroke="#80c1fa" stroke-width="2"/>
<path d="M9.88 -8.90 A13.3 13.3 0 0 1 12.85 -3.44" fill="none" stroke="#80c1fa" stroke-width="2.2"/>
<path d="M-4.48 -9.61 A10.6 10.6 0 0 1 3.63 -9.96" fill="none" stroke="#80c1fa" stroke-width="2.4"/>
<path d="M6.62 7.36 A9.9 9.9 0 0 1 -9.80 1.38" fill="none" stroke="#80c1fa" stroke-width="3.4"/>
<circle r="7.7" fill="url(#icg)" stroke="#9db0bd" stroke-width=".9"/>
</g>
<g id="ics">
<circle r="7" fill="none" stroke="#7cc4f5" stroke-width="1.2" stroke-dasharray="9 4 6 3" opacity=".9"/>
<circle r="4" fill="none" stroke="#6bbcf4" stroke-width="2" stroke-dasharray="7 3 5 2" transform="rotate(60)"/>
<circle r="2.4" fill="#b9c4c6"/>
</g>
</defs>
<g id="labels">
<path class="dot" d="M775 475.8 L871 475.8 L896 536.8"/>
<use href="#ic" x="743" y="445.1"/>
<text class="cj lb lc" x="761.3" y="439.6" font-size="19.3" textLength="136.2" lengthAdjust="spacing">塑料掀背门模块</text>
<text class="en lb nm" x="797.8" y="463.3" font-size="22"><tspan textLength="12.5" lengthAdjust="spacingAndGlyphs">-</tspan><tspan textLength="49.3" lengthAdjust="spacingAndGlyphs">5.0kg</tspan></text>
<path class="dot" d="M638 515.8 L696 515.8 L742 572.8"/>
<use href="#ic" x="615.8" y="494.4"/>
<text class="cj lb lc" x="632.5" y="482.4" font-size="19.3" textLength="77.5" lengthAdjust="spacing">全景天窗</text>
<text class="en lb nm" x="639.3" y="505.8" font-size="22"><tspan textLength="12.5" lengthAdjust="spacingAndGlyphs">-</tspan><tspan textLength="50.6" lengthAdjust="spacingAndGlyphs">4.0kg</tspan></text>
<path class="dot" d="M532 544.3 L583.8 544.3 L648 628.8"/>
<use href="#ic" x="509.5" y="516.4"/>
<text class="cj lb lc" x="530.7" y="513.2" font-size="19.3" textLength="59.0" lengthAdjust="spacing">脚踏板</text>
<text class="en lb nm" x="529.3" y="537" font-size="22"><tspan textLength="12.5" lengthAdjust="spacingAndGlyphs">-</tspan><tspan textLength="48.8" lengthAdjust="spacingAndGlyphs">1.0kg</tspan></text>
<path class="dot" d="M412.5 572 L491.8 572 L520 610"/>
<use href="#ic" x="380.8" y="545.5"/>
<text class="cj lb lc" x="404" y="539.9" font-size="19.3" textLength="77.7" lengthAdjust="spacing">车窗系统</text>
<text class="en lb nm" x="402.8" y="562.5" font-size="22"><tspan textLength="12.5" lengthAdjust="spacingAndGlyphs">-</tspan><tspan textLength="62.3" lengthAdjust="spacingAndGlyphs">18.0kg</tspan></text>
<path class="dot" d="M317 649.2 L378 649.2 L452 748.8"/>
<use href="#ic" x="293.4" y="623.2"/>
<text class="cj lb lc" x="317.5" y="619.2" font-size="19.3" textLength="58.6" lengthAdjust="spacing">电池盒</text>
<text class="en lb nm" x="313.3" y="643.2" font-size="22"><tspan textLength="12.5" lengthAdjust="spacingAndGlyphs">-</tspan><tspan textLength="50.8" lengthAdjust="spacingAndGlyphs">4.0kg</tspan></text>
<path class="dot" d="M253 677.2 L335 677.2 L392 744.8"/>
<use href="#ic" x="232" y="712.2"/>
<text class="cj lb lc" x="253.9" y="704.2" font-size="19.3" textLength="77.6" lengthAdjust="spacing">前端模块</text>
<text class="en lb nm" x="261.3" y="728.8" font-size="22"><tspan textLength="12.5" lengthAdjust="spacingAndGlyphs">-</tspan><tspan textLength="49.8" lengthAdjust="spacingAndGlyphs">3.0kg</tspan></text>
<path class="dot" d="M246.4 754.8 L322 754.8 L378 805.8"/>
<use href="#ic" x="226" y="790.6"/>
<text class="cj lb lc" x="246.5" y="783.2" font-size="19.3" textLength="77.0" lengthAdjust="spacing">前防撞梁</text>
<text class="en lb nm" x="253.3" y="807.8" font-size="22"><tspan textLength="12.5" lengthAdjust="spacingAndGlyphs">-</tspan><tspan textLength="49.8" lengthAdjust="spacingAndGlyphs">2.5kg</tspan></text>
<path class="dot" d="M307.5 859.5 L386.3 859.5 L444.4 820.6"/>
<use href="#ic" x="427.3" y="894.6"/>
<text class="cj lb lc" x="292.3" y="884.4" font-size="19.3" textLength="117.2" lengthAdjust="spacing">发动机底护板</text>
<text class="en lb nm" x="319.3" y="909" font-size="22"><tspan textLength="12.5" lengthAdjust="spacingAndGlyphs">-</tspan><tspan textLength="50.2" lengthAdjust="spacingAndGlyphs">2.5kg</tspan></text>
<path class="dot" d="M553.4 894.8 L491 894.8 L481 841.8"/>
<use href="#ic" x="580.4" y="927.3"/>
<text class="cj lb lc" x="483" y="919.8" font-size="19.3" textLength="78.0" lengthAdjust="spacing">轮罩衬板</text>
<text class="en lb nm" x="490.3" y="943.3" font-size="22"><tspan textLength="12.5" lengthAdjust="spacingAndGlyphs">-</tspan><tspan textLength="49.8" lengthAdjust="spacingAndGlyphs">3.2kg</tspan></text>
<path class="dot" d="M661.2 835.8 L589.8 835.8 L566 797.8"/>
<use href="#ic" x="701.8" y="875.2"/>
<text class="cj lb lc" x="585.1" y="862.7" font-size="19.3" textLength="95.9" lengthAdjust="spacing">塑料翼子板</text>
<text class="en lb nm" x="601.7" y="885.8" font-size="22"><tspan textLength="12.5" lengthAdjust="spacingAndGlyphs">-</tspan><tspan textLength="49.9" lengthAdjust="spacingAndGlyphs">2.5kg</tspan></text>
<path class="dot" d="M779.7 805.4 L694.7 805.4 L676.3 784.8"/>
<use href="#ic" x="807.5" y="838.4"/>
<text class="cj lb lc" x="691.3" y="827.2" font-size="19.3" textLength="97.4" lengthAdjust="spacing">车身底护板</text>
<text class="en lb nm" x="715.6" y="851.3" font-size="22"><tspan textLength="12.5" lengthAdjust="spacingAndGlyphs">-</tspan><tspan textLength="33.8" lengthAdjust="spacingAndGlyphs">4kg</tspan></text>
<path class="dot" d="M850 760.6 L778.3 760.6 L742 719.8"/>
<use href="#ic" x="874" y="790.2"/>
<text class="cj lb lc" x="776.4" y="780.4" font-size="19.3" textLength="78.3" lengthAdjust="spacing">塑料油箱</text>
<text class="en lb nm" x="784.3" y="803.8" font-size="22"><tspan textLength="12.5" lengthAdjust="spacingAndGlyphs">-</tspan><tspan textLength="49.5" lengthAdjust="spacingAndGlyphs">5.0kg</tspan></text>
<path class="dot" d="M1004.4 651.8 L937 651.8 L911 633.8"/>
<use href="#ic" x="1030" y="684.2"/>
<text class="cj lb lc" x="931.5" y="676.7" font-size="19.3" textLength="77.0" lengthAdjust="spacing">后防撞梁</text>
<text class="en lb nm" x="938.3" y="700.8" font-size="22"><tspan textLength="12.5" lengthAdjust="spacingAndGlyphs">-</tspan><tspan textLength="49.8" lengthAdjust="spacingAndGlyphs">2.5kg</tspan></text>
<path class="dot" d="M992.4 569.4 L928 569.4 L903 588.8"/>
<use href="#ic" x="1010.4" y="540.2"/>
<text class="cj lb lc" x="931.5" y="536.2" font-size="19.3" textLength="57.0" lengthAdjust="spacing">备胎仓</text>
<text class="en lb nm" x="929.3" y="559.8" font-size="22"><tspan textLength="12.5" lengthAdjust="spacingAndGlyphs">-</tspan><tspan textLength="49.8" lengthAdjust="spacingAndGlyphs">3.5kg</tspan></text>
<use href="#ics" x="521" y="615.5"/>
<circle cx="223.4" cy="403.3" r="24.3" fill="none" stroke="#f6efe2" stroke-width="1.3"/>
<circle cx="203.8" cy="389.3" r="3.4" fill="#ffffff"/>
<text class="cj lb" x="222.8" y="414.7" font-size="33" text-anchor="middle" fill="#fff" style="font-weight:400">轻</text>
<text class="cj lb" x="250.7" y="411.90000000000003" font-size="25" textLength="49.4" lengthAdjust="spacing" style="font-weight:400">量化</text>
<text class="en lb lw" x="199.5" y="455" font-size="21" textLength="101.0" lengthAdjust="spacing" style="font-weight:400">lightweight</text>
<circle cx="852.8" cy="947.3" r="24.5" fill="none" stroke="#c9c6c2" stroke-width="1.3"/>
<circle cx="832.5" cy="933.3" r="3.4" fill="#cfd0d2"/>
<text class="cj lb" x="852.1999999999999" y="958.6999999999999" font-size="33" text-anchor="middle" fill="#fff" style="font-weight:400">轻</text>
<text class="cj lb" x="879.3000000000001" y="955.9" font-size="25" textLength="49.4" lengthAdjust="spacing" style="font-weight:400">量化</text>
<text class="en lb lw" x="831.2" y="993.4" font-size="21" textLength="100.59999999999991" lengthAdjust="spacing" style="font-weight:400">lightweight</text>
</g>
<g id="table">
<rect x="53.6" y="1140.4" width="224.1" height="77.2" fill="#b8904d"/>
<rect x="281.0" y="1140.4" width="257.1" height="77.2" fill="#b8904d"/>
<rect x="541.2" y="1140.4" width="256.7" height="77.2" fill="#b8904d"/>
<rect x="801.4" y="1140.4" width="321.6" height="77.2" fill="#b8904d"/>
<rect x="53.6" y="1227.8" width="1069.4" height="3.2" fill="#9b9c9e"/>
<rect x="53.6" y="1441" width="1069.4" height="3.2" fill="#9b9c9e"/>
<rect x="53.6" y="1329.4" width="1069.4" height="1" fill="#cfcfcf"/>
<rect x="278.8" y="1231" width="1" height="210" fill="#cfcfcf"/>
<rect x="538.8" y="1231" width="1" height="210" fill="#cfcfcf"/>
<rect x="798.9" y="1231" width="1" height="210" fill="#cfcfcf"/>
<text class="cj" x="64.9" y="1191.8" font-size="24.6" fill="#fff" textLength="49.7" lengthAdjust="spacing" style="font-weight:400">材料</text>
<text class="en" x="121.7" y="1191.3" font-size="19.6" fill="#fff" textLength="66.0" lengthAdjust="spacingAndGlyphs">Material</text>
<text class="cj" x="292.7" y="1191.8" font-size="24.6" fill="#fff" textLength="49.6" lengthAdjust="spacing" style="font-weight:400">类别</text>
<text class="en" x="348.3" y="1191.3" font-size="19.6" fill="#fff" textLength="75.0" lengthAdjust="spacingAndGlyphs">Category</text>
<text class="cj" x="553.4" y="1191.8" font-size="24.6" fill="#fff" textLength="50.7" lengthAdjust="spacing" style="font-weight:400">用途</text>
<text class="en" x="612.5" y="1191.3" font-size="19.6" fill="#fff" textLength="93.0" lengthAdjust="spacingAndGlyphs">Application</text>
<text class="cj" x="818.4" y="1191.8" font-size="24.6" fill="#fff" textLength="50.8" lengthAdjust="spacing" style="font-weight:400">特征</text>
<text class="en" x="878.0" y="1191.3" font-size="19.6" fill="#fff" textLength="117.5" lengthAdjust="spacingAndGlyphs">Characteristics</text>
<text class="cj" x="66.0" y="1254.3" font-size="15.2" fill="#3d3d3d" textLength="151.3" lengthAdjust="spacingAndGlyphs" style="font-weight:350">PP，PA，PBT，PET</text>
<text class="cj" x="66.0" y="1272.7" font-size="15.2" fill="#3d3d3d" textLength="139.7" lengthAdjust="spacingAndGlyphs" style="font-weight:350">PC，PC/ABS合金等</text>
<text class="en" x="66.0" y="1294.3" font-size="14.6" fill="#8f8f8f" textLength="149.7" lengthAdjust="spacingAndGlyphs">PP, PA, PBT, PET,PC,</text>
<text class="en" x="66.0" y="1310.0" font-size="14.6" fill="#8f8f8f" textLength="133.3" lengthAdjust="spacingAndGlyphs">PC/ABS ALLOY etc.</text>
<text class="cj" x="293.2" y="1256.6" font-size="14.8" fill="#3d3d3d" textLength="167.2" lengthAdjust="spacing" style="font-weight:350">激光打标材料/免喷涂材料</text>
<text class="en" x="293.6" y="1276.5" font-size="14.6" fill="#8f8f8f" textLength="148.4" lengthAdjust="spacingAndGlyphs">Laser Marking Material</text>
<text class="en" x="293.6" y="1292.5" font-size="14.6" fill="#8f8f8f" textLength="133.9" lengthAdjust="spacingAndGlyphs">/Paint-Free Material.</text>
<text class="cj" x="553.6" y="1256.1" font-size="14.8" fill="#3d3d3d" textLength="207.2" lengthAdjust="spacing" style="font-weight:350">仪表盘，后视镜，汽车内饰件等</text>
<text class="en" x="554.0" y="1276.4" font-size="14.6" fill="#8f8f8f" textLength="195.6" lengthAdjust="spacingAndGlyphs">Dashboards, rearview mirrors,</text>
<text class="en" x="554.0" y="1292.2" font-size="14.6" fill="#8f8f8f" textLength="182.0" lengthAdjust="spacingAndGlyphs">automotive interior parts etc.</text>
<text class="cj" x="818.6" y="1256.2" font-size="14.8" fill="#3d3d3d" textLength="217.8" lengthAdjust="spacing" style="font-weight:350">外观美观，尺寸稳定性好，耐久、</text>
<text class="cj" x="818.6" y="1273.0" font-size="14.8" fill="#3d3d3d" textLength="133.8" lengthAdjust="spacing" style="font-weight:350">耐低温、耐候性强等</text>
<text class="en" x="819.0" y="1291.4" font-size="12.4" fill="#8f8f8f" textLength="269.0" lengthAdjust="spacingAndGlyphs">Beautiful appearance, good dimensional stability,</text>
<text class="en" x="819.0" y="1305.5" font-size="12.4" fill="#8f8f8f" textLength="208.6" lengthAdjust="spacingAndGlyphs">durability, low temperature resistance,</text>
<text class="en" x="819.0" y="1319.6" font-size="12.4" fill="#8f8f8f" textLength="168.0" lengthAdjust="spacingAndGlyphs">strong weather resistance etc.</text>
<text class="cj" x="65.5" y="1357.5" font-size="15.2" fill="#3d3d3d" textLength="142.5" lengthAdjust="spacingAndGlyphs" style="font-weight:350">PPA，PES，PPS等</text>
<text class="en" x="65.5" y="1378.5" font-size="14.6" fill="#8f8f8f" textLength="132.0" lengthAdjust="spacingAndGlyphs">PPA, PES, PPS etc.</text>
<text class="cj" x="293.2" y="1357.1" font-size="14.8" fill="#3d3d3d" textLength="104.2" lengthAdjust="spacing" style="font-weight:350">耐高温增强材料</text>
<text class="en" x="293.6" y="1377.0" font-size="14.6" fill="#8f8f8f" textLength="182.4" lengthAdjust="spacingAndGlyphs">High Temperature Resistant</text>
<text class="en" x="293.6" y="1393.3" font-size="14.6" fill="#8f8f8f" textLength="127.9" lengthAdjust="spacingAndGlyphs">Reinforced Material.</text>
<text class="cj" x="553.6" y="1356.7" font-size="14.8" fill="#3d3d3d" textLength="162.8" lengthAdjust="spacing" style="font-weight:350">发动机周边，汽车齿轮等</text>
<text class="en" x="554.0" y="1376.6" font-size="14.6" fill="#8f8f8f" textLength="123.5" lengthAdjust="spacingAndGlyphs">Engine peripherals,</text>
<text class="en" x="554.0" y="1392.6" font-size="14.6" fill="#8f8f8f" textLength="139.5" lengthAdjust="spacingAndGlyphs">automotive gears etc.</text>
<text class="cj" x="818.6" y="1356.3" font-size="14.8" fill="#3d3d3d" textLength="262.8" lengthAdjust="spacing" style="font-weight:350">耐磨性优异，耐油性强，耐疲劳性优异，</text>
<text class="cj" x="818.6" y="1374.3" font-size="14.8" fill="#3d3d3d" textLength="295.8" lengthAdjust="spacing" style="font-weight:350">耐腐蚀性优异，加工性能好，尺寸稳定性好等</text>
<text class="en" x="819.0" y="1391.5" font-size="12.4" fill="#8f8f8f" textLength="262.5" lengthAdjust="spacingAndGlyphs">Excellent wear resistance, strong oil resistance,</text>
<text class="en" x="819.0" y="1405.0" font-size="12.4" fill="#8f8f8f" textLength="247.0" lengthAdjust="spacingAndGlyphs">excellent resistance to fatigue and corrosion,</text>
<text class="en" x="819.0" y="1418.5" font-size="12.4" fill="#8f8f8f" textLength="170.0" lengthAdjust="spacingAndGlyphs">good processing performance,</text>
<text class="en" x="819.0" y="1431.6" font-size="12.4" fill="#8f8f8f" textLength="165.0" lengthAdjust="spacingAndGlyphs">good dimensional stability etc.</text>
</g>
</svg>
</body>
</html>
